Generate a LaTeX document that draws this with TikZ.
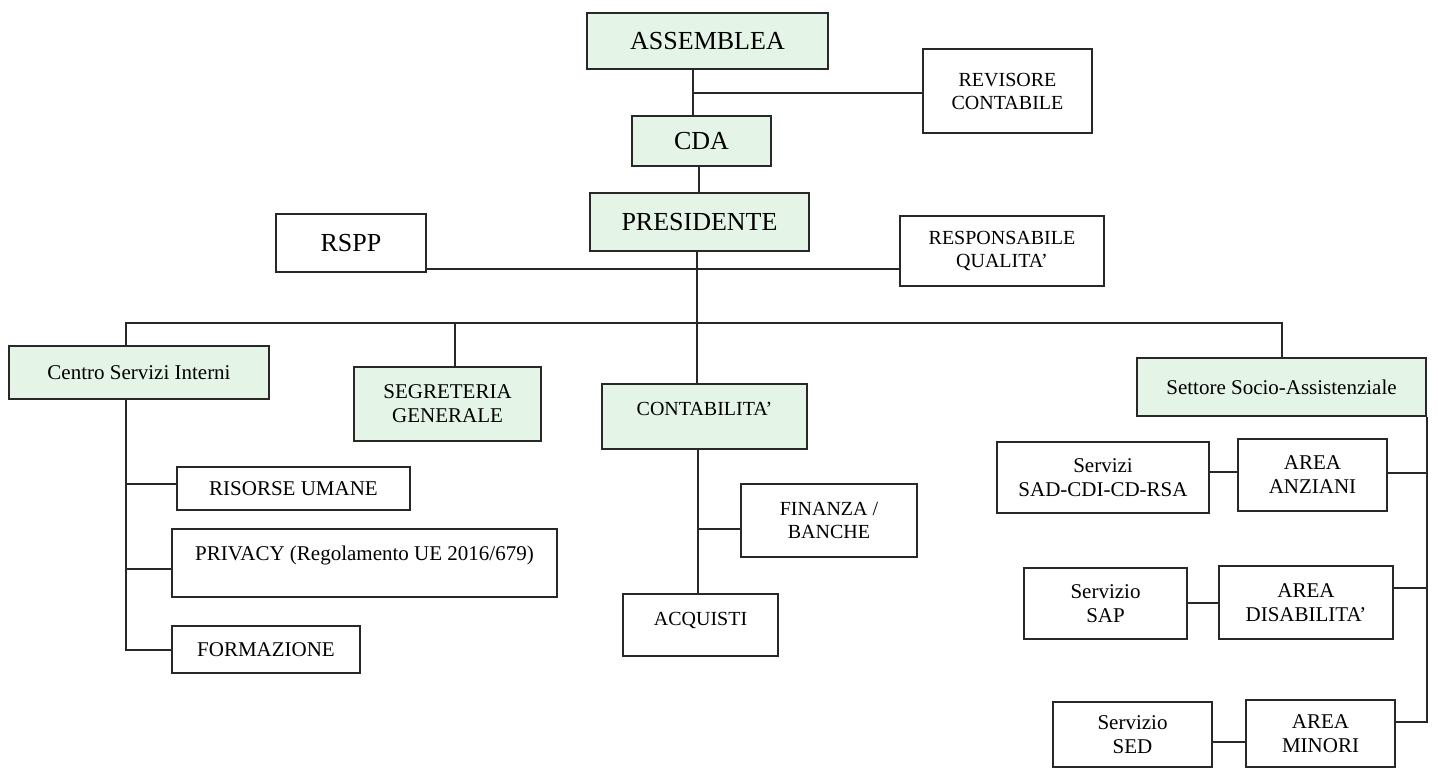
\documentclass[tikz,border=0pt]{standalone}
\usepackage{fontspec}
\setmainfont{Liberation Serif}
\definecolor{boxgreen}{RGB}{228,244,230}
\definecolor{inkline}{RGB}{40,40,40}
\begin{document}
\begin{tikzpicture}[x=1pt,y=-1pt,
  box/.style={draw=inkline, line width=1.4pt, inner sep=0pt, align=center, fill=white,
              font=\fontsize{21}{24}\selectfont},
  gbox/.style={box, fill=boxgreen},
  big/.style={font=\fontsize{26}{30}\selectfont},
  sm/.style={font=\fontsize{20}{23}\selectfont},
  conn/.style={draw=inkline, line width=1.8pt}]
\useasboundingbox (0,0) rectangle (1438,768);

% top
\node[gbox,big,minimum width=241pt,minimum height=56pt] (ass) at (707.5,41) {ASSEMBLEA};
\node[box,sm,minimum width=169pt,minimum height=84pt] (rev) at (1007.5,91) {REVISORE\\CONTABILE};
\node[gbox,big,minimum width=139pt,minimum height=50pt] (cda) at (701.5,141) {CDA};
\node[gbox,big,minimum width=219pt,minimum height=58pt] (pres) at (699.5,222) {PRESIDENTE};
\node[box,big,minimum width=150pt,minimum height=58pt] (rspp) at (351,243) {RSPP};
\node[box,sm,minimum width=204pt,minimum height=70pt] (rq) at (1002,251) {RESPONSABILE\\QUALITA’};

% second level
\node[gbox,minimum width=260pt,minimum height=53pt] (csi) at (139,372.5) {Centro Servizi Interni};
\node[gbox,minimum width=187pt,minimum height=74pt] (seg) at (447.5,404) {SEGRETERIA\\GENERALE};
\node[gbox,sm,minimum width=205pt,minimum height=65pt] (cont) at (704.5,416.5) {\raisebox{15pt}{CONTABILITA’}};
\node[gbox,minimum width=289pt,minimum height=58pt] (sett) at (1281.5,387) {Settore Socio-Assistenziale};

% centro servizi interni
\node[box,minimum width=233pt,minimum height=43pt] (ris) at (293.5,488.5) {RISORSE UMANE};
\node[box,minimum width=385pt,minimum height=68pt] (priv) at (364.5,563) {\raisebox{20pt}{PRIVACY (Regolamento UE 2016/679)}};
\node[box,minimum width=188pt,minimum height=47pt] (form) at (266,649.5) {FORMAZIONE};

% contabilita
\node[box,sm,minimum width=176pt,minimum height=73pt] (fin) at (829,520.5) {FINANZA /\\BANCHE};
\node[box,sm,minimum width=155pt,minimum height=62pt] (acq) at (700.5,625) {\raisebox{12pt}{ACQUISTI}};

% settore socio-assistenziale
\node[box,minimum width=212pt,minimum height=71pt] (sad) at (1103,477.5) {Servizi\\SAD-CDI-CD-RSA};
\node[box,minimum width=149pt,minimum height=72pt] (anz) at (1312.5,475) {AREA\\ANZIANI};
\node[box,minimum width=163pt,minimum height=71pt] (sap) at (1105.5,603.5) {Servizio\\SAP};
\node[box,minimum width=174pt,minimum height=73pt] (dis) at (1306,602.5) {AREA\\DISABILITA’};
\node[box,minimum width=159pt,minimum height=65pt] (sed) at (1132.5,734.5) {Servizio\\SED};
\node[box,minimum width=149pt,minimum height=67pt] (min) at (1320.5,733.5) {AREA\\MINORI};

% connectors: top
\coordinate (j1) at (693,93);
\draw[conn] (j1 |- ass.south) -- (j1 |- cda.north);
\draw[conn] (j1) -- (j1 -| rev.west);
\coordinate (j2) at (699,0);
\draw[conn] (j2 |- cda.south) -- (j2 |- pres.north);
\coordinate (pv) at (697,323);
\draw[conn] (pv |- pres.south) -- (pv |- cont.north);
\coordinate (rl) at (0,269);
\draw[conn] (rl -| rspp.east) -- (rl -| rq.west);

% main bus
\coordinate (bl) at (126,323);
\coordinate (br) at (1282,323);
\draw[conn] (bl |- csi.north) -- (bl) -- (br) -- (br |- sett.north);
\coordinate (bs) at (455,323);
\draw[conn] (bs) -- (bs |- seg.north);

% centro servizi interni branches
\coordinate (cb1) at (126,484);
\coordinate (cb2) at (126,569);
\coordinate (cb3) at (126,650);
\draw[conn] (bl |- csi.south) -- (cb3) -- (cb3 -| form.west);
\draw[conn] (cb1) -- (cb1 -| ris.west);
\draw[conn] (cb2) -- (cb2 -| priv.west);

% contabilita branches
\coordinate (kb) at (698,529);
\draw[conn] (kb |- cont.south) -- (kb |- acq.north);
\draw[conn] (kb) -- (kb -| fin.west);

% settore branches
\coordinate (s1) at (1427,473);
\coordinate (s2) at (1427,588);
\coordinate (s3) at (1427,722);
\draw[conn] (s3 |- sett.south) -- (s3) -- (s3 -| min.east);
\draw[conn] (s1) -- (s1 -| anz.east);
\draw[conn] (s2) -- (s2 -| dis.east);
\coordinate (h1) at (0,472);
\coordinate (h2) at (0,603);
\coordinate (h3) at (0,742);
\draw[conn] (h1 -| sad.east) -- (h1 -| anz.west);
\draw[conn] (h2 -| sap.east) -- (h2 -| dis.west);
\draw[conn] (h3 -| sed.east) -- (h3 -| min.west);
\end{tikzpicture}
\end{document}
